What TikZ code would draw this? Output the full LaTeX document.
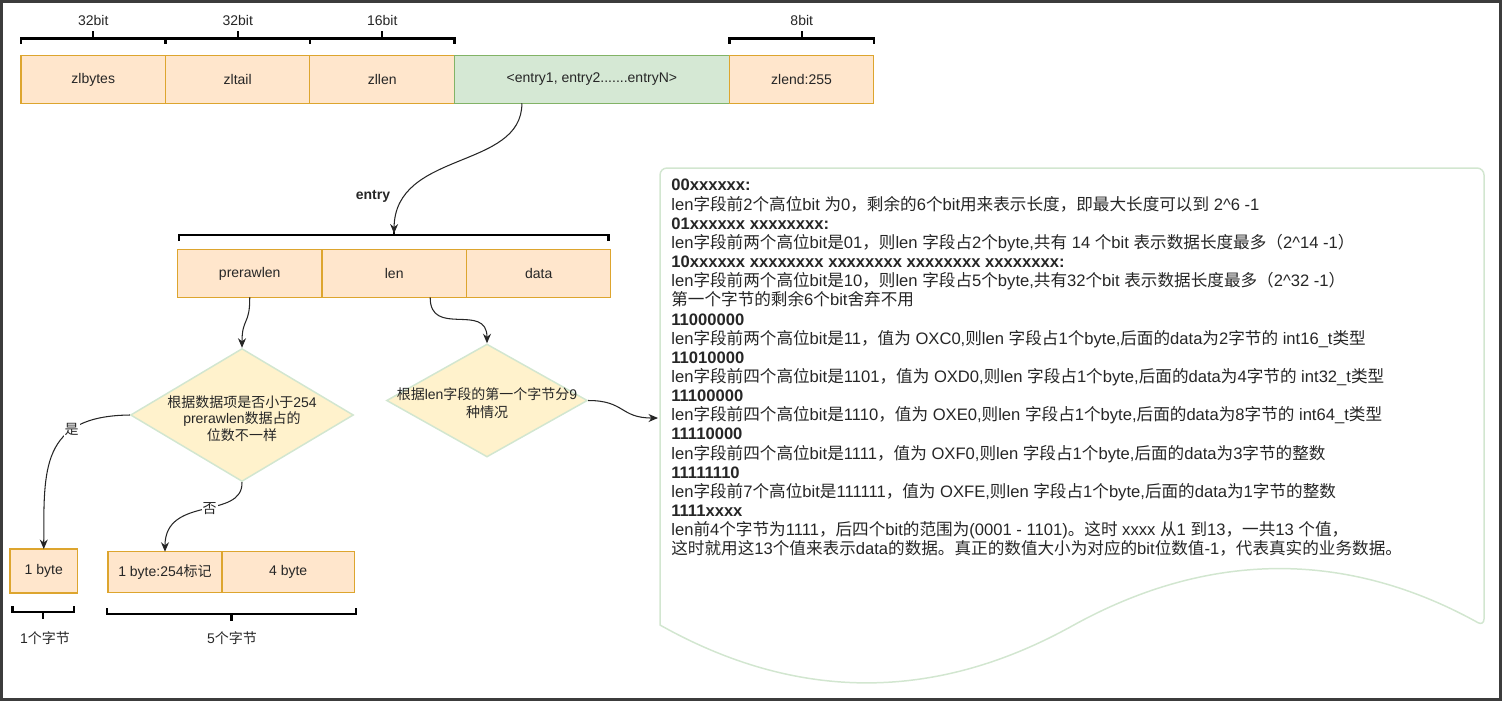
\documentclass[tikz,border=0pt]{standalone}
\usepackage{fontspec}
\setmainfont{Liberation Sans}
\newfontfamily\cjk{Noto Sans CJK SC}
% switch to the CJK family for CJK characters
\newXeTeXintercharclass\cjkcls
\makeatletter
\@tempcnta="3000
\loop\ifnum\@tempcnta<"A000
  \XeTeXcharclass\@tempcnta=\cjkcls
  \advance\@tempcnta\@ne
\repeat
\@tempcnta="FF00
\loop\ifnum\@tempcnta<"FFF0
  \XeTeXcharclass\@tempcnta=\cjkcls
  \advance\@tempcnta\@ne
\repeat
\makeatother
\XeTeXinterchartoks 0 \cjkcls = {\begingroup\cjk}
\XeTeXinterchartoks 4095 \cjkcls = {\begingroup\cjk}
\XeTeXinterchartoks \cjkcls 0 = {\endgroup}
\XeTeXinterchartoks \cjkcls 4095 = {\endgroup}
\XeTeXinterchartokenstate=1
\usetikzlibrary{shapes.geometric,arrows.meta}
\definecolor{orfill}{HTML}{FFE6CC}
\definecolor{orline}{HTML}{DDA52E}
\definecolor{grfill}{HTML}{D5E8D4}
\definecolor{grline}{HTML}{82B366}
\definecolor{yefill}{HTML}{FFF2CC}
\definecolor{notebd}{HTML}{D2E6D0}
\definecolor{ink}{HTML}{262626}
\definecolor{frame}{HTML}{3C3C3C}
\tikzset{
  field/.style={draw=orline, fill=orfill, line width=0.6pt, minimum width=2.89cm,
    minimum height=0.95cm, inner sep=0pt, outer sep=0pt},
  choice/.style={diamond, draw=notebd, fill=yefill, line width=0.85pt, inner sep=0pt},
  brace/.style={line width=1.15pt, line cap=rect},
  flow/.style={-{Stealth[length=0.19cm,width=0.16cm]}, line width=0.6pt, draw=black!85},
  tag/.style={fill=white, inner sep=0.6pt}
}
\begin{document}
\begin{tikzpicture}[x=0.02cm, y=-0.02cm, font=\fontsize{7.97}{9.4}\selectfont, text=ink]
  \useasboundingbox (0,0) rectangle (1504,701);
  \draw[frame, line width=1.7pt] (1.5,1.5) rectangle (1500,699.5);

  % ziplist header
  \node[field, anchor=west] (zlbytes) at (21,79.5) {zlbytes};
  \node[field, anchor=west] (zltail) at (zlbytes.east) {zltail};
  \node[field, anchor=west] (zllen) at (zltail.east) {zllen};
  \node[field, anchor=west, minimum width=5.5cm, draw=grline, fill=grfill] (entries) at (zllen.east) {<entry1, entry2.......entryN>};
  \node[field, anchor=west] (zlend) at (entries.east) {zlend:255};
  \foreach \a/\b/\t [count=\i] in {21/165.5/32bit, 165.5/310/32bit, 310/454.5/16bit, 729.5/874/8bit} {
    \draw[brace] (\a,43) -- (\a,38.5) -- (\b,38.5) -- (\b,43) ({(\a+\b)/2},38.5) -- ({(\a+\b)/2},32);
    \node (bits\i) at ({(\a+\b)/2},20) {\t};
  }

  % entry
  \coordinate (entrytip) at (394,233.5);
  \draw[brace] (179,240) -- (179,235) -- (608.5,235) -- (608.5,240) (394,235) -- (394,229);
  \draw[flow] ([xshift=-1.4cm]entries.south) .. controls (522,170) and (395,150) .. (entrytip);
  \node (entrylbl) at (373,196) {\bfseries entry};
  \node[field, anchor=west] (prerawlen) at (177.5,273.7) {prerawlen};
  \node[field, anchor=west] (len) at (prerawlen.east) {len};
  \node[field, anchor=west] (data) at (len.east) {data};

  % decisions
  \node[choice, minimum width=4.46cm, minimum height=2.66cm] (sizeq) at (242,415) {};
  \node[align=center] (sizeqtext) at (242,418.5) {根据数据项是否小于254\\prerawlen数据占的\\位数不一样};
  \node[choice, minimum width=4.02cm, minimum height=2.26cm] (lenq) at (487,400.5) {};
  \node[align=center, font=\fontsize{7.97}{10.2}\selectfont] (lenqtext) at (487,403) {根据len字段的第一个字节分9\\种情况};
  \draw[flow] (prerawlen.south) .. controls (250,325) and (242,318) .. (sizeq.north);
  \draw[flow] ([xshift=0.72cm]len.south) .. controls (430,338) and (487,302) .. (lenq.north);

  % prerawlen sizes
  \node[field, minimum width=1.35cm, minimum height=0.88cm] (onebyte) at (43.75,571) {1 byte};
  \node[field, anchor=west, minimum width=2.28cm, minimum height=0.82cm] (flag) at (108,572.2) {1 byte:254标记};
  \node[field, anchor=west, minimum width=2.65cm, minimum height=0.82cm] (fourbyte) at (flag.east) {4 byte};
  \draw[flow] (sizeq.west) .. controls (40,416) and (44,470) .. (onebyte.north) node[tag, pos=0.3] (yes) {是};
  \draw[flow] (sizeq.south) .. controls (243,520) and (165,495) .. (flag.north) node[tag, pos=0.45] (no) {否};
  \draw[brace] (12.5,607) -- (12.5,612) -- (74,612) -- (74,607) (43.25,612) -- (43.25,617.5);
  \draw[brace] (107,609) -- (107,614) -- (356,614) -- (356,609) (231.5,614) -- (231.5,619.5);
  \node (onelbl) at (45,638) {1个字节};
  \node (fivelbl) at (232,638) {5个字节};

  % len cases note
  \draw[notebd, line width=0.85pt] (660,625) [rounded corners=0.14cm] -- (660,168) -- (1484,168) -- (1484,626) [sharp corners]
    .. controls (1347,550) and (1209,550) .. (1072,626) .. controls (935,702) and (797,702) .. (660,625) -- cycle;
  \coordinate (noteend) at (658,418);
  \draw[flow] (lenq.east) .. controls (625,400.5) and (620,418) .. (noteend);
  \node[anchor=north west, align=left, inner sep=0pt, font=\fontsize{9.45}{10.9}\selectfont] (cases) at (671,179) {%
    \textbf{00xxxxxx:}\\
    len字段前2个高位bit 为0，剩余的6个bit用来表示长度，即最大长度可以到 2\textasciicircum6 -1\\
    \textbf{01xxxxxx xxxxxxxx:}\\
    len字段前两个高位bit是01，则len 字段占2个byte,共有 14 个bit 表示数据长度最多（2\textasciicircum14 -1）\\
    \textbf{10xxxxxx xxxxxxxx xxxxxxxx xxxxxxxx xxxxxxxx:}\\
    len字段前两个高位bit是10，则len 字段占5个byte,共有32个bit 表示数据长度最多（2\textasciicircum32 -1）\\
    第一个字节的剩余6个bit舍弃不用\\
    \textbf{11000000}\\
    len字段前两个高位bit是11，值为 OXC0,则len 字段占1个byte,后面的data为2字节的 int16\_t类型\\
    \textbf{11010000}\\
    len字段前四个高位bit是1101，值为 OXD0,则len 字段占1个byte,后面的data为4字节的 int32\_t类型\\
    \textbf{11100000}\\
    len字段前四个高位bit是1110，值为 OXE0,则len 字段占1个byte,后面的data为8字节的 int64\_t类型\\
    \textbf{11110000}\\
    len字段前四个高位bit是1111，值为 OXF0,则len 字段占1个byte,后面的data为3字节的整数\\
    \textbf{11111110}\\
    len字段前7个高位bit是111111，值为 OXFE,则len 字段占1个byte,后面的data为1字节的整数\\
    \textbf{1111xxxx}\\
    len前4个字节为1111，后四个bit的范围为(0001 - 1101)。这时 xxxx 从1 到13，一共13 个值，\\
    这时就用这13个值来表示data的数据。真正的数值大小为对应的bit位数值-1，代表真实的业务数据。};
\end{tikzpicture}
\end{document}
